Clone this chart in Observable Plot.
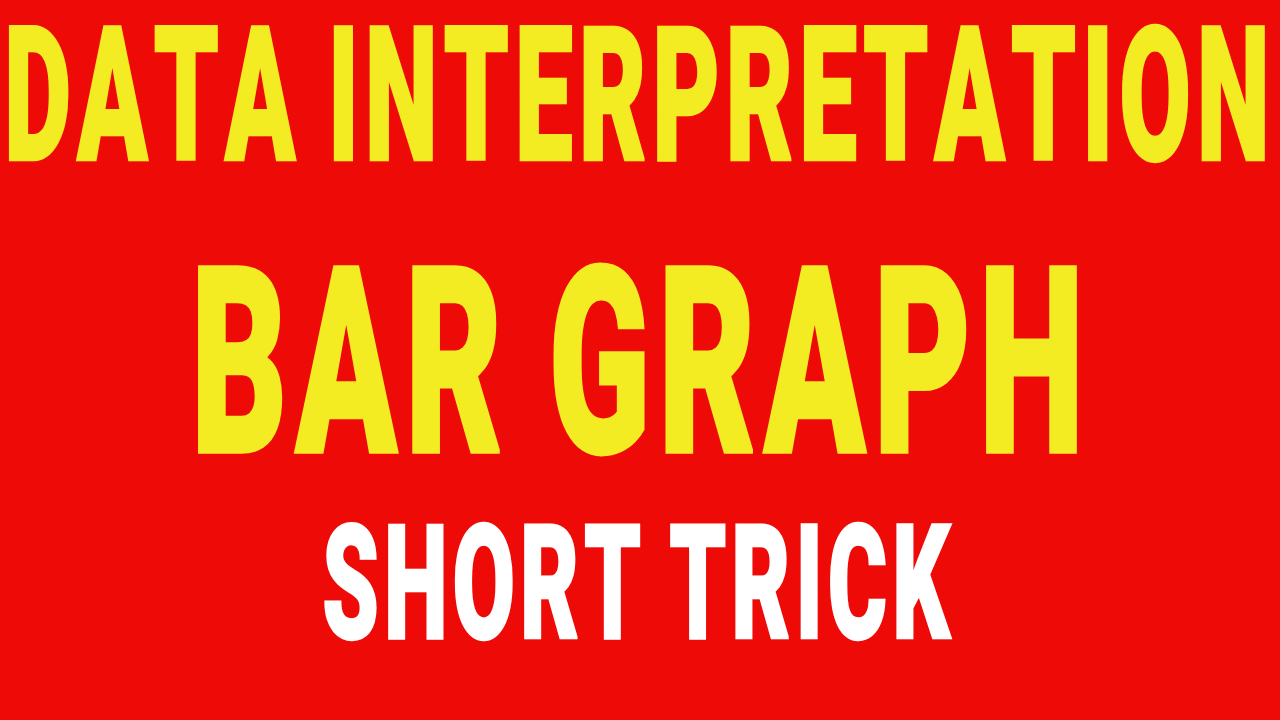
<!DOCTYPE html>
<html>
<head>
<meta charset="utf-8">
<script src="https://cdn.jsdelivr.net/npm/d3@7"></script>
<script src="https://cdn.jsdelivr.net/npm/@observablehq/plot@0.6"></script>
<style>
  html, body { margin: 0; padding: 0; background: #EE0A07; overflow: hidden; }
  #chart svg { display: block; }
  #chart text { font-kerning: none; font-feature-settings: "kern" 0; paint-order: stroke; }
</style>
</head>
<body>
<div id="chart"></div>
<script>
// Text content of the title card
const lines = ["DATA INTERPRETATION", "BAR GRAPH", "SHORT TRICK"];
const lineColors = ["#F4EC23", "#F4EC23", "#FFFFFF"];

// Layout (ink extents)
const lineLeft = [8, 196, 323];
const lineRight = [1265, 1078, 952];
const lineBaseline = [160, 453, 638];
const lineCapHeight = [135, 188, 115];

const CAP = 0.711;          // Roboto cap-height / em
const strokeW = [2, 3, 2];  // screen-space stroke that thickens the glyphs
const LS = 0.055;           // letter spacing (em) before horizontal squeeze
const WS = -0.05;           // word spacing adjustment (em)
const FONT = "Roboto, 'Liberation Sans', sans-serif";
const fontSizes = lineCapHeight.map((c, i) => (c - strokeW[i]) / CAP);

const rows = lines.map((t, i) => ({t, x: lineLeft[i], y: lineBaseline[i]}));

const marks = rows.map((r, i) => Plot.text([r], {
  x: "x", y: "y", text: "t",
  textAnchor: "start", lineAnchor: "bottom",
  fill: lineColors[i], stroke: lineColors[i], strokeWidth: strokeW[i],
  strokeLinejoin: "miter",
  fontFamily: FONT,
  fontWeight: 900,
  fontSize: fontSizes[i],
  dy: -strokeW[i] / 2
}));

const chart = Plot.plot({
  width: 1280, height: 720, margin: 0,
  x: {domain: [0, 1280], range: [0, 1280], axis: null},
  y: {domain: [0, 720], range: [0, 720], axis: null},
  style: {background: "#EE0A07"},
  marks
});
document.getElementById("chart").appendChild(chart);

// squeeze each line horizontally so its ink spans the reference extents
const texts = Array.from(chart.querySelectorAll("text"));
const base = texts.map(el => el.getAttribute("transform") || "");
texts.forEach(el => {
  el.setAttribute("vector-effect", "non-scaling-stroke");
  el.style.letterSpacing = LS + "em";
  el.style.wordSpacing = WS + "em";
});
const ctx = document.createElement("canvas").getContext("2d");
function fit() {
  texts.forEach((el, i) => {
    const fs = fontSizes[i];
    ctx.font = `900 ${fs}px ${FONT}`;
    let extra = 0;
    if ("letterSpacing" in ctx) {
      ctx.letterSpacing = (LS * fs) + "px";
      ctx.wordSpacing = (WS * fs) + "px";
      if ("fontKerning" in ctx) ctx.fontKerning = "none";
    } else {
      extra = (lines[i].length - 1) * LS * fs;
    }
    const m = ctx.measureText(lines[i]);
    let abl = m.actualBoundingBoxLeft, abr = m.actualBoundingBoxRight + extra;
    if ("letterSpacing" in ctx) {
      // trailing spacing is not ink; actualBoundingBoxRight already reflects ink
    }
    const ink = abl + abr;
    const target = lineRight[i] - lineLeft[i] - strokeW[i];
    const sx = target / ink;
    const tx = strokeW[i] / 2 + sx * abl;
    el.setAttribute("transform", `${base[i]} translate(${tx},0) scale(${sx},1)`);
  });
}
fit();
if (document.fonts && document.fonts.ready) document.fonts.ready.then(fit);
</script>
</body>
</html>
